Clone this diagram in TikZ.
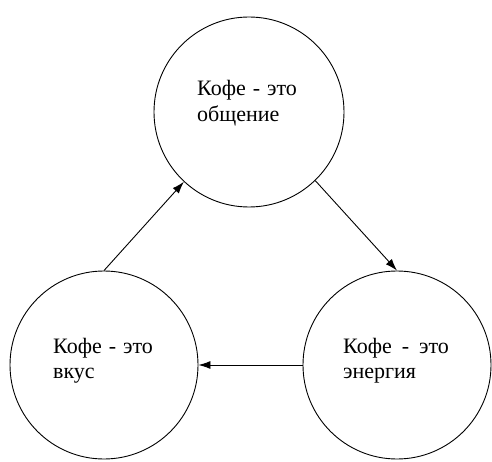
\documentclass[tikz,border=0pt]{standalone}
\usepackage{fontspec}
\setmainfont{Liberation Serif}
\usepackage{tikz}
\usetikzlibrary{positioning,arrows.meta}

\begin{document}
\begin{tikzpicture}[x=1pt,y=-1pt,
    circ/.style={draw,circle,line width=0.9pt,minimum size=188pt,inner sep=0pt},
    txt/.style={anchor=base west,inner sep=0pt,font=\fontsize{22}{26}\selectfont},
    arr/.style={->,>={Latex[length=12pt,width=8pt]},line width=0.9pt}]
           \useasboundingbox (0,0) rectangle (492,462);
           \node[circ,minimum size=190pt] (obsh) at (249,112) {}; %верхний круг
           \node[circ] (vkus) at (104,365) {}; %левый круг
           \node[circ] (energ) at (397,365) {}; %правый круг

           \node[txt] (obsh1) at (197,96) {Кофе\hspace{7pt}-\hspace{7pt}это};
           \node[txt] (obsh2) at (197,122) {общение};
           \node[txt] (vkus1) at (53,353) {Кофе\hspace{7pt}-\hspace{7pt}это};
           \node[txt] (vkus2) at (53,378) {вкус};
           \node[txt] (energ1) at (343,353) {Кофе\hspace{10pt}-\hspace{10pt}это};
           \node[txt] (energ2) at (343,378) {энергия};

           \draw[arr] (vkus.north)--(obsh.-133); %вкус -> общение
           \draw[arr] (obsh.-46)--(energ.north); %общение -> энергия
           \draw[arr] (energ.west)--(vkus.east); %энергия -> вкус
\end{tikzpicture}
\end{document}
